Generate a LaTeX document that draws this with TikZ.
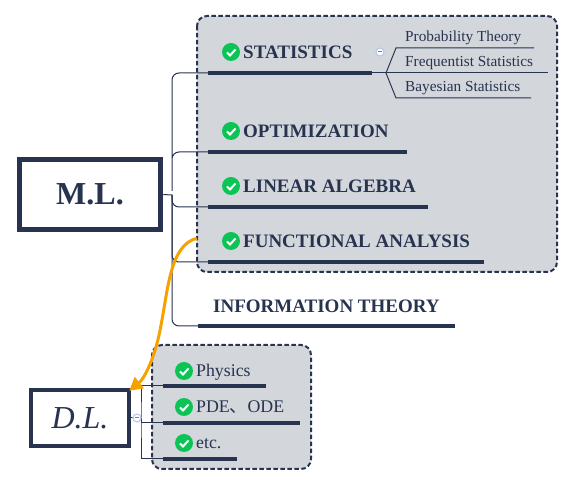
\documentclass[tikz,border=0pt]{standalone}
\usepackage{fontspec}
\setmainfont{Liberation Serif}
\newfontfamily\cjk{Noto Sans CJK SC}
\usetikzlibrary{shapes,arrows,arrows.meta}

\definecolor{navy}{HTML}{27334F}
\definecolor{panelgray}{HTML}{D3D6DB}
\definecolor{okgreen}{HTML}{0CC456}
\definecolor{linkorange}{HTML}{F7A100}
\definecolor{foldblue}{HTML}{BCC9EE}

\tikzset{
    panel/.style={draw=navy, fill=panelgray, line width=2pt, dash pattern=on 4.5pt off 2.5pt, rounded corners=10pt},
    rootbox/.style={draw=navy, fill=white, text=navy, line width=5.5pt, inner sep=0pt},
    topic/.style={anchor=base west, text=navy, inner sep=0pt, font=\fontsize{19}{20}\selectfont\bfseries},
    subtopic/.style={anchor=base west, text=navy, inner sep=0pt, font=\fontsize{17.8}{18}\selectfont},
    leaf/.style={anchor=base west, text=navy, inner sep=0pt, font=\fontsize{15.3}{16}\selectfont},
    bar/.style={navy, line width=4pt},
    wire/.style={navy, line width=1pt},
    fold/.style={circle, draw=foldblue, fill=white, line width=1.2pt, minimum size=8pt, inner sep=0pt,
        path picture={\draw[gray, line width=1pt] ([xshift=-2pt]path picture bounding box.center) -- ++(4,0);}},
    okmark/.style={circle, fill=okgreen, minimum size=18pt, inner sep=0pt,
        path picture={\draw[white, line width=2pt] ([shift={(-4,0.5)}]path picture bounding box.center) -- ++(3,3) -- ++(5.5,-6);}},
}

\begin{document}
\begin{tikzpicture}[x=1pt, y=-1pt]
    \useasboundingbox (0,0) rectangle (574,486);

    \coordinate (PA) at (197, 16);
    \coordinate (PB) at (557, 272);
    \coordinate (QA) at (152, 345);
    \coordinate (QB) at (311, 469);

    \coordinate (trunk) at (172, 195);
    \coordinate (Sl) at (208, 73);
    \coordinate (Sr) at (372, 73);
    \coordinate (Ol) at (208, 152);
    \coordinate (Or) at (407, 152);
    \coordinate (Ll) at (208, 207);
    \coordinate (Lr) at (428, 207);
    \coordinate (Fl) at (208, 262);
    \coordinate (Fr) at (484, 262);
    \coordinate (Il) at (198, 326);
    \coordinate (Ir) at (455, 326);

    \coordinate (fork) at (386, 73);
    \coordinate (Pl) at (396, 48);
    \coordinate (Pr) at (534, 48);
    \coordinate (Qr) at (548, 73);
    \coordinate (Bl) at (396, 98);
    \coordinate (Br) at (531, 98);

    \coordinate (dtrunk) at (141, 418);
    \coordinate (Hl) at (163, 386);
    \coordinate (Hr) at (266, 386);
    \coordinate (El) at (163, 423);
    \coordinate (Er) at (300, 423);
    \coordinate (Tl) at (163, 459);
    \coordinate (Tr) at (237, 459);

    \draw [panel] (PA) rectangle (PB);
    \draw [panel] (QA) rectangle (QB);

    \node [rootbox, minimum width=141pt, minimum height=70pt, font=\fontsize{32}{34}\selectfont\bfseries] (ML) at (90, 194.5) {M.L.};
    \node [rootbox, line width=4.5pt, minimum width=98pt, minimum height=56pt, font=\fontsize{32}{34}\selectfont\itshape] (DL) at (80, 418) {D.L.};

    % main branches
    \draw [wire] (ML.east) -- (trunk);
    \draw [wire, rounded corners=7pt] (Sl) -| (trunk) |- (Ol);
    \draw [wire, rounded corners=7pt] (trunk) |- (Ll);
    \draw [wire, rounded corners=7pt] (trunk) |- (Fl);
    \draw [wire, rounded corners=7pt] (trunk) |- (Il);

    \draw [bar] (Sl) -- (Sr);
    \draw [bar] (Ol) -- (Or);
    \draw [bar] (Ll) -- (Lr);
    \draw [bar] (Fl) -- (Fr);
    \draw [bar] (Il) -- (Ir);

    \node [okmark] (okS) at (231, 52) {};
    \node [okmark] (okO) at (231, 131) {};
    \node [okmark] (okL) at (231, 186) {};
    \node [okmark] (okF) at (231, 241) {};

    \node [topic] (statistics) at (243, 58.5) {STATISTICS};
    \node [topic] (optimization) at (243, 137.5) {OPTIMIZATION};
    \node [topic] (linalg) at (243, 192.5) {LINEAR ALGEBRA};
    \node [topic] (funcana) at (243, 247.5) {FUNCTIONAL ANALYSIS};
    \node [topic] (infotheory) at (213, 312.5) {INFORMATION THEORY};

    % statistics leaves
    \draw [wire] (Sr) -- (Qr);
    \draw [wire] (Pr) -- (Pl) -- (fork) -- (Bl) -- (Br);
    \node [fold] (foldS) at (380, 52) {};
    \node [leaf] (probability) at (405, 42) {Probability Theory};
    \node [leaf] (frequentist) at (405, 67) {Frequentist Statistics};
    \node [leaf] (bayesian) at (405, 92) {Bayesian Statistics};

    % deep learning side
    \draw [wire] (DL.east) -- (dtrunk);
    \draw [wire] (Hl) -| (dtrunk) |- (Tl);
    \draw [wire] (dtrunk) |- (El);
    \node [fold] (foldD) at (137, 418) {};

    \draw [bar] (Hl) -- (Hr);
    \draw [bar] (El) -- (Er);
    \draw [bar] (Tl) -- (Tr);

    \node [okmark] (okH) at (184, 371) {};
    \node [okmark] (okE) at (184, 407) {};
    \node [okmark] (okT) at (184, 443) {};

    \node [subtopic] (physics) at (196, 377) {Physics};
    \node [subtopic] (pde) at (196, 413) {PDE{\cjk 、}ODE};
    \node [subtopic] (etc) at (196, 449) {etc.};

    % link
    \draw [linkorange, line width=3pt, -{Triangle[length=13pt, width=14pt]}] (okF.west |- funcana.west) ++(-25, -3)
        .. controls (170, 245) and (168, 290) .. (161, 325)
        .. controls (156, 355) and (145, 378) .. ([shift={(-2,3)}]DL.north east);

\end{tikzpicture}
\end{document}
